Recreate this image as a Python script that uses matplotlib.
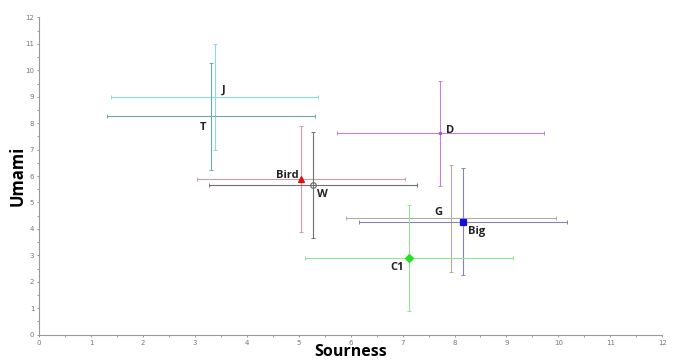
import matplotlib.pyplot as plt
import numpy as np

# samples: name, sourness, umami, errors (sd)
names = ["J", "T", "Bird", "W", "D", "G", "Big", "C1"]
sourness = [3.38, 3.31, 5.04, 5.28, 7.73, 7.93, 8.16, 7.12]
umami = [9.0, 8.26, 5.88, 5.66, 7.61, 4.40, 4.28, 2.91]
sour_err = [2.0, 2.0, 2.0, 2.0, 2.0, 2.02, 2.0, 2.0]
umami_err = [2.0, 2.02, 2.0, 2.02, 1.98, 2.02, 2.02, 2.01]

line_colors = ["#8fd8e6", "#6fa8aa", "#c8a0a2", "#707070",
               "#c57fd6", "#b5aca0", "#8585b5", "#96e296"]
markers = ["", "", "^", "o", ".", "", "s", "D"]
marker_face = ["none", "none", "#e01010", "none", "#b050c0", "none", "#1010e0", "#22e022"]
marker_edge = ["none", "none", "#e01010", "#707070", "#b050c0", "none", "#1010e0", "#22e022"]
marker_size = [0, 0, 5, 4, 3, 0, 4.5, 4]

# label offsets in points
label_dx = [5, -8, -18, 3, 4, -12, 4, -13]
label_dy = [5, -8, 3, -7, 2, 4, -7, -7]

fig = plt.figure(figsize=(6.75, 3.63), dpi=100)
ax = fig.add_axes([0.058, 0.078, 0.923, 0.874])

for i in range(len(names)):
    ax.errorbar(sourness[i], umami[i], xerr=sour_err[i], yerr=umami_err[i],
                fmt="none", ecolor=line_colors[i], elinewidth=0.8,
                capsize=1.3, capthick=0.7, zorder=2)
    if markers[i]:
        ax.plot(sourness[i], umami[i], marker=markers[i], ms=marker_size[i],
                mfc=marker_face[i], mec=marker_edge[i], mew=0.9,
                linestyle="none", zorder=3)
    ax.annotate(names[i], (sourness[i], umami[i]),
                xytext=(label_dx[i], label_dy[i]), textcoords="offset points",
                fontsize=8, fontweight="bold", family="Open Sans",
                color="#222222", ha="left", va="center")

ax.set_xlim(0, 12)
ax.set_ylim(0, 12)
ax.set_xticks(np.arange(0, 13, 1))
ax.set_yticks(np.arange(0, 13, 1))
ax.set_xticks(np.arange(0, 12.5, 0.5), minor=True)
ax.set_yticks(np.arange(0, 12.5, 0.5), minor=True)
ax.tick_params(which="both", length=1.5, width=0.6, color="#888888",
               labelsize=5, labelcolor="#777777", pad=2)

for side in ["top", "right"]:
    ax.spines[side].set_visible(False)
for side in ["left", "bottom"]:
    ax.spines[side].set_color("#999999")
    ax.spines[side].set_linewidth(0.8)

ax.set_xlabel("Sourness", fontsize=11.5, fontweight="bold", family="Open Sans",
              labelpad=-1)
ax.set_ylabel("Umami", fontsize=12, fontweight="bold", family="Open Sans",
              labelpad=-1)

fig.savefig("out.png", dpi=100)
